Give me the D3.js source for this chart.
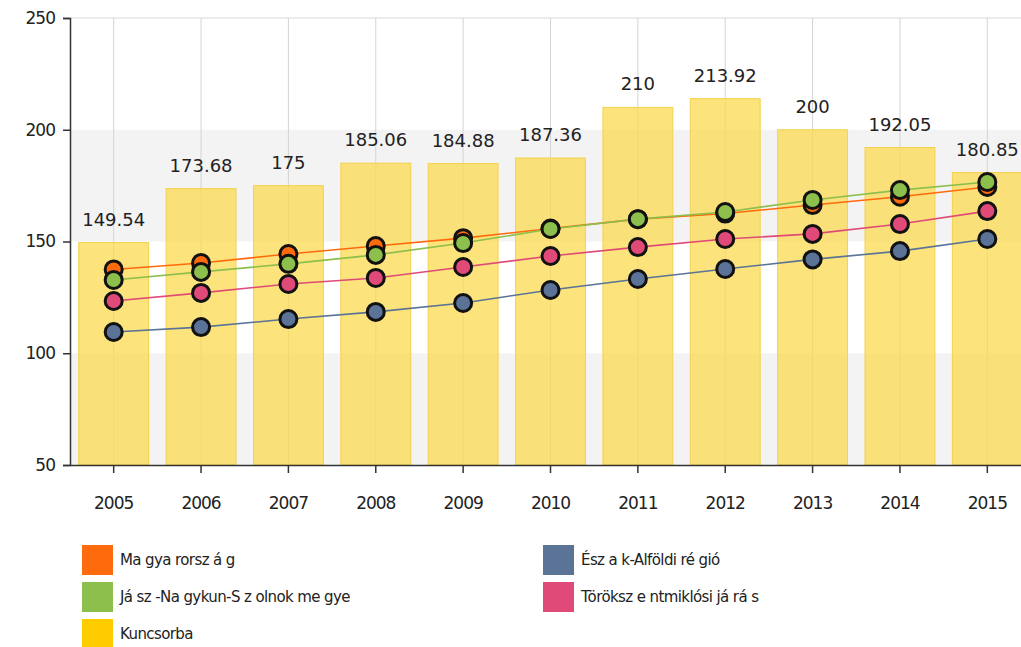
<!DOCTYPE html>
<html>
<head>
<meta charset="utf-8">
<script src="https://cdnjs.cloudflare.com/ajax/libs/d3/7.8.5/d3.min.js"></script>
<style>
    body { margin: 0; background: #fff; overflow: hidden; }
    text { font-family: "DejaVu Sans", Verdana, sans-serif; fill: #222; }
</style>
</head>
<body>
<div id="chart"></div>
<script>
"use strict";

var years = ["2005", "2006", "2007", "2008", "2009", "2010", "2011", "2012", "2013", "2014", "2015"];
var kuncsorba = [149.54, 173.68, 175, 185.06, 184.88, 187.36, 210, 213.92, 200, 192.05, 180.85];
var magyarorszag = [137.5, 140.4, 144.4, 148, 151.5, 155.8, 160, 162.5, 166.3, 170, 174.4];
var jasz = [132.8, 136.4, 140, 144, 149.3, 155.6, 160, 163.2, 168.6, 173, 176.6];
var toroksz = [123.4, 127, 131, 133.7, 138.6, 143.5, 147.5, 151.1, 153.4, 157.8, 163.6];
var eszak = [109.5, 111.7, 115.3, 118.5, 122.5, 128.3, 133.2, 137.7, 142, 145.7, 151.1];
var yTicks = [50, 100, 150, 200, 250];

var legendItems = [
    { name: "Ma gya rorsz á g", color: "#ff6a0d", col: 0, row: 0 },
    { name: "Já sz -Na gykun-S z olnok  me gye", color: "#8dbf4c", col: 0, row: 1 },
    { name: "Kuncsorba", color: "#ffcc00", col: 0, row: 2 },
    { name: "Ész a k-Alföldi ré gió", color: "#5a7396", col: 1, row: 0 },
    { name: "Töröksz e ntmiklósi já rá s", color: "#e04a78", col: 1, row: 1 }
];

// drawing order: first one ends up underneath
var lineSeries = [
    { values: magyarorszag, color: "#ff6a0d" },
    { values: jasz, color: "#8dbf4c" },
    { values: toroksz, color: "#e04a78" },
    { values: eszak, color: "#5a7396" }
];

var width = 1021, height = 647;
var margin = { left: 70, top: 18 };
var plotW = 961, plotH = 447;

var svg = d3.select("#chart").append("svg")
    .attr("width", width)
    .attr("height", height);

var x = d3.scaleBand().domain(years).range([margin.left, margin.left + plotW]).paddingInner(0.2).paddingOuter(0.1);
var y = d3.scaleLinear().domain([50, 250]).range([margin.top + plotH, margin.top]);

// alternating bands
var bands = [[50, 100], [150, 200]];
svg.append("g").selectAll("rect").data(bands).enter().append("rect")
    .attr("x", margin.left)
    .attr("y", function (d) { return y(d[1]); })
    .attr("width", plotW)
    .attr("height", function (d) { return y(d[0]) - y(d[1]); })
    .attr("fill", "#f3f3f3");

// top border line
svg.append("line")
    .attr("x1", margin.left).attr("x2", margin.left + plotW)
    .attr("y1", y(250)).attr("y2", y(250))
    .attr("stroke", "#d9d9d9");

// vertical grid
svg.append("g").selectAll("line").data(years).enter().append("line")
    .attr("x1", function (d) { return x(d) + x.bandwidth() / 2; })
    .attr("x2", function (d) { return x(d) + x.bandwidth() / 2; })
    .attr("y1", y(250)).attr("y2", y(50))
    .attr("stroke", "#d4d4d4");

// bars
svg.append("g").selectAll("rect").data(kuncsorba).enter().append("rect")
    .attr("x", function (d, i) { return x(years[i]); })
    .attr("y", function (d) { return y(d); })
    .attr("width", x.bandwidth())
    .attr("height", function (d) { return y(50) - y(d); })
    .attr("fill", "#fbd94f")
    .attr("fill-opacity", 0.75)
    .attr("stroke", "#f3d24e")
    .attr("stroke-width", 1);

// bar labels
svg.append("g").selectAll("text").data(kuncsorba).enter().append("text")
    .attr("x", function (d, i) { return x(years[i]) + x.bandwidth() / 2; })
    .attr("y", function (d) { return y(d) - 17; })
    .attr("text-anchor", "middle")
    .style("font-size", "18px")
    .text(function (d) { return d; });

// lines
var line = d3.line()
    .x(function (d, i) { return x(years[i]) + x.bandwidth() / 2; })
    .y(function (d) { return y(d); });

lineSeries.forEach(function (s) {
    svg.append("path")
        .datum(s.values)
        .attr("d", line)
        .attr("fill", "none")
        .attr("stroke", s.color)
        .attr("stroke-width", 1.6);
});

lineSeries.forEach(function (s) {
    svg.append("g").selectAll("circle").data(s.values).enter().append("circle")
        .attr("cx", function (d, i) { return x(years[i]) + x.bandwidth() / 2; })
        .attr("cy", function (d) { return y(d); })
        .attr("r", 8.5)
        .attr("fill", s.color)
        .attr("stroke", "#111")
        .attr("stroke-width", 3);
});

// y axis
var yAxis = svg.append("g")
    .attr("transform", "translate(" + margin.left + ",0)")
    .call(d3.axisLeft(y).tickValues(yTicks).tickSize(7).tickPadding(8));
yAxis.select(".domain").attr("stroke", "#333").attr("stroke-width", 1.5);
yAxis.selectAll(".tick line").attr("stroke", "#333").attr("stroke-width", 1.5);
yAxis.selectAll("text").style("font-size", "17px").style("letter-spacing", "-1px").attr("fill", "#222");

// x axis
var xAxis = svg.append("g")
    .attr("transform", "translate(0," + y(50) + ")")
    .call(d3.axisBottom(x).tickSize(8).tickPadding(24).tickSizeOuter(0));
xAxis.select(".domain").attr("stroke", "#333").attr("stroke-width", 1.5);
xAxis.selectAll(".tick line").attr("stroke", "#333").attr("stroke-width", 1.5);
xAxis.selectAll("text").style("font-size", "17px").style("letter-spacing", "-1px").attr("fill", "#222");

// legend
var legend = svg.append("g").selectAll("g").data(legendItems).enter().append("g")
    .attr("transform", function (d) {
        return "translate(" + (d.col === 0 ? 82 : 543) + "," + (545 + d.row * 37) + ")";
    });
legend.append("rect")
    .attr("width", 31).attr("height", 30)
    .attr("fill", function (d) { return d.color; });
legend.append("text")
    .attr("x", 38).attr("y", 15).attr("dy", "0.35em")
    .style("font-size", "15px")
    .style("letter-spacing", "-0.6px")
    .text(function (d) { return d.name; });
</script>
</body>
</html>
